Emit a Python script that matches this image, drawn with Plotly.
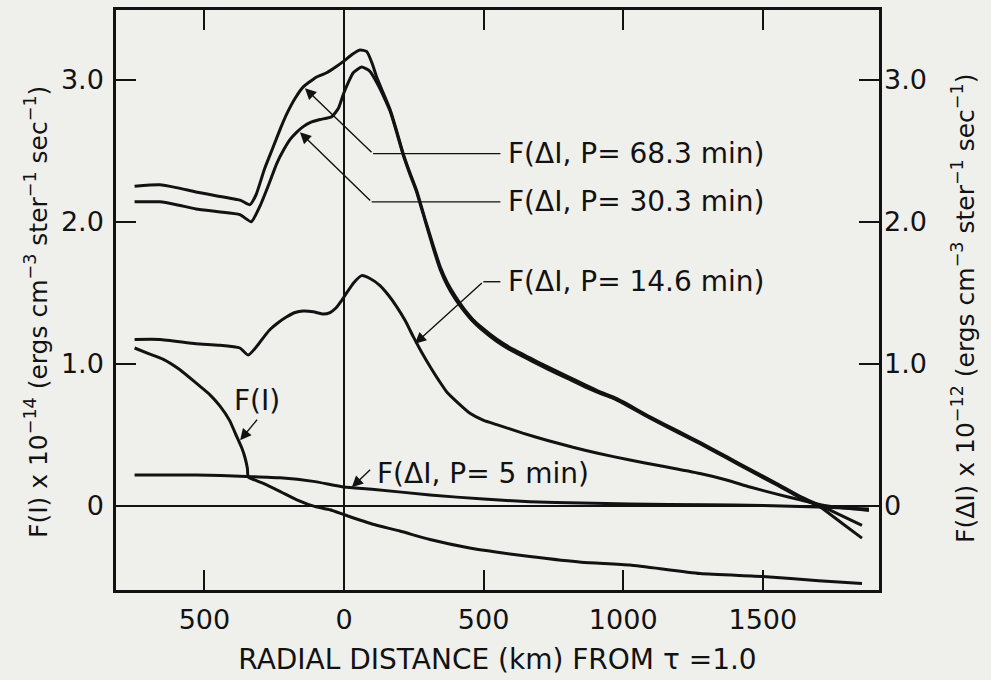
import plotly.graph_objects as go

# ---------------- data (x in km from tau=1.0) ----------------
x_p683 = [-750, -660, -600, -530, -450, -370, -337, -315, -285, -253, -225, -205, -175, -146, -120, -98,
          -62, -30, -2, 30, 57, 81, 100, 117, 140, 165, 190, 212, 235, 260, 290, 320, 345, 370, 400, 430,
          460, 490, 545, 606, 666, 726, 800, 869, 917, 964, 1000, 1096, 1200, 1275, 1370, 1454, 1550,
          1633, 1705, 1780, 1855]
y_p683 = [2.25, 2.26, 2.24, 2.21, 2.18, 2.15, 2.12, 2.19, 2.37, 2.53, 2.67, 2.76, 2.87, 2.95, 2.99, 3.02,
          3.05, 3.09, 3.13, 3.18, 3.21, 3.20, 3.12, 3.02, 2.91, 2.79, 2.63, 2.48, 2.35, 2.22, 2.02, 1.83,
          1.68, 1.57, 1.47, 1.385, 1.315, 1.26, 1.175, 1.10, 1.04, 0.98, 0.91, 0.845, 0.80, 0.765, 0.73,
          0.625, 0.52, 0.445, 0.345, 0.255, 0.155, 0.065, 0.0, -0.07, -0.14]

x_p303 = [-750, -660, -600, -530, -450, -373, -332, -301, -270, -241, -215, -193, -170, -146, -120, -86,
          -44, -20, -2, 15, 33, 63, 93, 123, 145, 165, 190, 212, 235, 260, 290, 320, 345, 370, 400, 430,
          460, 490, 545, 606, 666, 726, 800, 869, 917, 964, 1000, 1096, 1200, 1275, 1370, 1454, 1550,
          1633, 1705, 1780, 1855]
y_p303 = [2.14, 2.14, 2.12, 2.09, 2.07, 2.05, 2.00, 2.11, 2.26, 2.41, 2.51, 2.58, 2.63, 2.67, 2.70, 2.72,
          2.74, 2.80, 2.90, 2.98, 3.05, 3.09, 3.06, 2.96, 2.87, 2.78, 2.62, 2.47, 2.34, 2.21, 2.01, 1.81,
          1.66, 1.55, 1.45, 1.37, 1.30, 1.245, 1.16, 1.085, 1.025, 0.965, 0.895, 0.83, 0.79, 0.755, 0.72,
          0.615, 0.51, 0.435, 0.335, 0.245, 0.145, 0.055, -0.01, -0.12, -0.23]

x_p146 = [-750, -660, -530, -450, -373, -343, -313, -290, -265, -235, -205, -175, -146, -110, -74, -50,
          -30, -10, 10, 35, 63, 93, 129, 160, 189, 220, 248, 278, 308, 340, 368, 410, 451, 500, 547, 640,
          726, 820, 905, 1024, 1132, 1275, 1370, 1454, 1550, 1633, 1720, 1800, 1880]
y_p146 = [1.17, 1.17, 1.14, 1.13, 1.11, 1.06, 1.12, 1.18, 1.24, 1.29, 1.33, 1.36, 1.37, 1.365, 1.35, 1.36,
          1.39, 1.44, 1.50, 1.57, 1.62, 1.60, 1.55, 1.48, 1.40, 1.30, 1.19, 1.08, 0.98, 0.88, 0.80, 0.72,
          0.65, 0.60, 0.57, 0.51, 0.46, 0.41, 0.37, 0.32, 0.28, 0.225, 0.18, 0.13, 0.08, 0.04, 0.0,
          -0.02, -0.035]

x_p5 = [-750, -530, -350, -229, -110, 0, 100, 308, 500, 666, 850, 1024, 1300, 1500, 1700, 1880]
y_p5 = [0.215, 0.215, 0.205, 0.195, 0.17, 0.13, 0.115, 0.074, 0.045, 0.027, 0.017, 0.01, 0.005, 0.0,
        -0.01, -0.025]

x_fi = [-750, -700, -647, -590, -528, -480, -444, -410, -384, -365, -355, -346, -343, -320, -289, -230,
        -169, -100, -50, 4, 100, 200, 308, 450, 550, 666, 850, 1024, 1275, 1500, 1700, 1855]
y_fi = [1.11, 1.07, 1.03, 0.96, 0.86, 0.78, 0.70, 0.60, 0.485, 0.40, 0.34, 0.26, 0.20, 0.18, 0.156, 0.10,
        0.04, -0.01, -0.03, -0.067, -0.13, -0.18, -0.24, -0.30, -0.33, -0.36, -0.40, -0.42, -0.48, -0.50,
        -0.53, -0.55]

x_tickvals = [-500, 0, 500, 1000, 1500]
x_ticktext = ["500", "0", "500", "1000", "1500"]
y_tickvals = [0, 1, 2, 3]
y_ticktext = ["0", "1.0", "2.0", "3.0"]

x_title = "RADIAL DISTANCE (km) FROM τ =1.0"
y_title_left = "F(I) x 10<sup>−14</sup> (ergs cm<sup>−3</sup> ster<sup>−1</sup> sec<sup>−1</sup>)"
y_title_right = "F(ΔI) x 10<sup>−12</sup> (ergs cm<sup>−3</sup> ster<sup>−1</sup> sec<sup>−1</sup>)"

# ---------------- style ----------------
INK = "#121212"
BG = "#efefec"
FONT = "DejaVu Sans"
FS = 27
XR = [-816.6, 1916]
YR = [-0.5955, 3.492]

fig = go.Figure()
line = dict(color=INK, width=3, shape="spline", smoothing=0.5)
fig.add_trace(go.Scatter(x=x_fi, y=y_fi, mode="lines", line=line, name="F(I)", yaxis="y"))
for xs, ys, nm in [(x_p683, y_p683, "P=68.3"), (x_p303, y_p303, "P=30.3"),
                   (x_p146, y_p146, "P=14.6"), (x_p5, y_p5, "P=5")]:
    fig.add_trace(go.Scatter(x=xs, y=ys, mode="lines", line=line, name=nm, yaxis="y2"))

axfont = dict(family=FONT, size=FS, color=INK)
titlefont = dict(family=FONT, size=25, color=INK)
fig.update_layout(
    width=991, height=680,
    margin=dict(l=116, r=112, t=10, b=90, autoexpand=False),
    paper_bgcolor=BG, plot_bgcolor=BG,
    showlegend=False,
    font=axfont,
    xaxis=dict(range=XR, tickvals=x_tickvals, ticktext=x_ticktext, ticks="inside", ticklen=20,
               tickwidth=2, tickcolor=INK, showline=True, linecolor=INK, linewidth=2.5, mirror="ticks",
               showgrid=False, zeroline=True, zerolinecolor=INK, zerolinewidth=1.5,
               tickfont=axfont, automargin=False, ticklabelstandoff=4,
               title=dict(text=x_title, font=dict(family=FONT, size=28, color=INK), standoff=16)),
    yaxis=dict(range=YR, tickvals=y_tickvals, ticktext=y_ticktext, ticks="inside", ticklen=20,
               tickwidth=2, tickcolor=INK, showline=True, linecolor=INK, linewidth=2.5, mirror="ticks",
               showgrid=False, zeroline=True, zerolinecolor=INK, zerolinewidth=1.5,
               tickfont=axfont, automargin=False, ticklabelstandoff=4),
    yaxis2=dict(range=YR, tickvals=y_tickvals, ticktext=y_ticktext, overlaying="y", side="right",
                ticks="", showline=False, showgrid=False, zeroline=False, tickfont=axfont,
                automargin=False, ticklabelstandoff=4),
)

# rotated axis titles
fig.add_annotation(text=y_title_left, xref="paper", yref="paper", x=(36 - 116) / 763, y=(590 - 312) / 580,
                   textangle=-90, showarrow=False, xanchor="center", yanchor="middle", font=titlefont)
fig.add_annotation(text=y_title_right, xref="paper", yref="paper", x=(963 - 116) / 763, y=(590 - 309) / 580,
                   textangle=-90, showarrow=False, xanchor="center", yanchor="middle", font=titlefont)

# leader lines with arrowheads
arrows = [
    # tip (x, y), tail (x, y)
    ((-140, 2.94), (104, 2.48)),
    ((-158, 2.63), (99, 2.14)),
    ((254, 1.14), (499, 1.577)),
    ((-372, 0.46), (-307, 0.615)),
    ((28, 0.128), (99, 0.262)),
]
for (tx, ty), (sx, sy) in arrows:
    fig.add_annotation(x=tx, y=ty, ax=sx, ay=sy, xref="x", yref="y", axref="x", ayref="y",
                       text="", showarrow=True, arrowhead=2, arrowsize=1.6, arrowwidth=1.4,
                       arrowcolor=INK, standoff=0, startstandoff=0)

segments = [((104, 2.48), (560, 2.48)), ((99, 2.14), (560, 2.14)), ((499, 1.577), (560, 1.577))]
for (x0, y0), (x1, y1) in segments:
    fig.add_shape(type="line", xref="x", yref="y", x0=x0, y0=y0, x1=x1, y1=y1,
                  line=dict(color=INK, width=1.4))

labels = [
    ("F(ΔI, P= 68.3 min)", 580, 2.48, "left"),
    ("F(ΔI, P= 30.3 min)", 580, 2.14, "left"),
    ("F(ΔI, P= 14.6 min)", 580, 1.577, "left"),
    ("F(I)", -312, 0.74, "center"),
    ("F(ΔI, P= 5 min)", 112, 0.227, "left"),
]
for txt, lx, ly, anc in labels:
    fig.add_annotation(x=lx, y=ly, xref="x", yref="y", text=txt, showarrow=False,
                       xanchor=anc, yanchor="middle", font=dict(family=FONT, size=28, color=INK))

fig.write_html("out.html", config={"displayModeBar": False},
               post_script="document.body.style.margin='0px';document.body.style.background='%s';" % BG)
